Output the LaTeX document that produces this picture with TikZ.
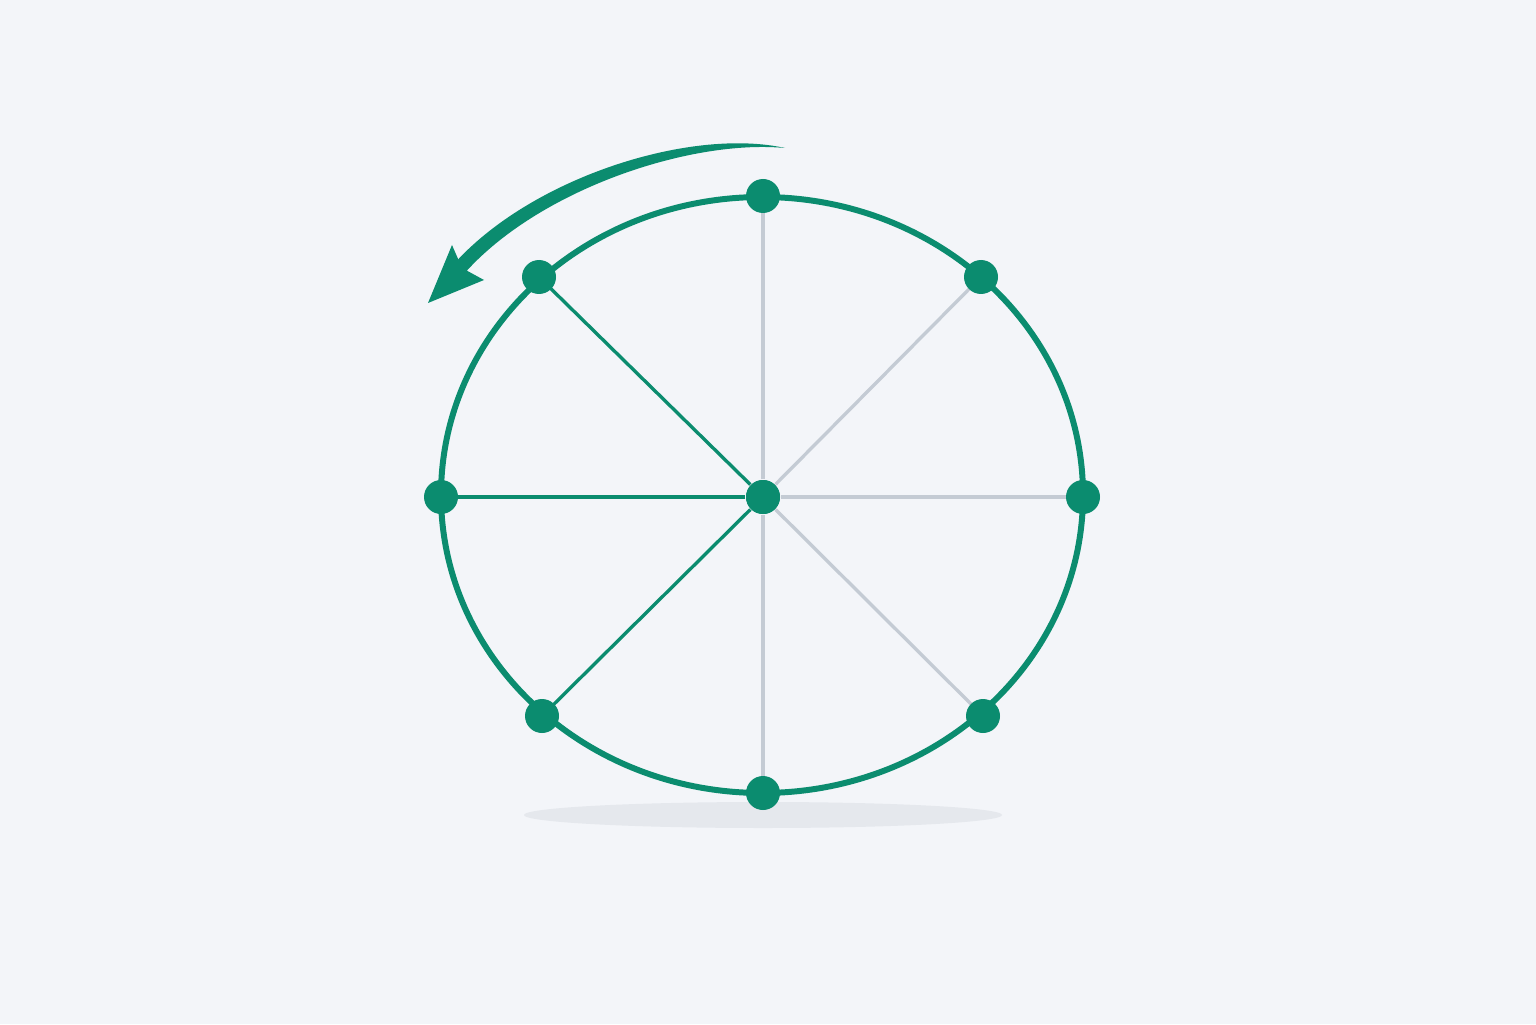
\documentclass[tikz,border=0pt]{standalone}
\usepackage{tikz}

\definecolor{bgcol}{HTML}{F3F5F9}
\definecolor{wheelgreen}{HTML}{0B8C6F}
\definecolor{spokegray}{HTML}{C4CBD4}
\definecolor{shadowcol}{HTML}{E5E8ED}

\tikzset{
  hub/.style={circle, fill=wheelgreen, inner sep=0pt, minimum size=0.34cm},
  spokeon/.style={wheelgreen, line width=0.95pt},
  spokeoff/.style={spokegray, line width=0.95pt},
}

\begin{document}
\begin{tikzpicture}
            % Background and shadow
            \fill[bgcol] (0,0) rectangle (15.36,10.24);
            \useasboundingbox (0,0) rectangle (15.36,10.24);
            \fill[shadowcol] (7.63,2.09) ellipse (2.39 and 0.13);

            % Define vertices
            \node[hub] (O) at (7.63,5.27) {};
            \coordinate (T) at (7.63,8.28);
            \coordinate (TR) at (9.81,7.47);
            \coordinate (R) at (10.83,5.27);
            \coordinate (BR) at (9.83,3.08);
            \coordinate (B) at (7.63,2.31);
            \coordinate (BL) at (5.42,3.08);
            \coordinate (L) at (4.41,5.27);
            \coordinate (TL) at (5.39,7.47);

            % Draw spokes
            \foreach \p in {T, TR, R, BR, B}
              \draw[spokeoff] (O) -- (\p);
            \foreach \p in {L, TL, BL}
              \draw[spokeon] (O) -- (\p);
            \node[hub] at (O) {};

            % Draw rim
            \draw[wheelgreen, line width=1.7pt] (7.62,5.29) ellipse (3.21 and 2.98);
            \foreach \p in {T, TR, R, BR, B, BL, L, TL}
              \node[hub] (n\p) at (\p) {};

            % Rotation arrow (tapered body, then head)
            \coordinate (arrS) at (7.85,8.76);
            \coordinate (arrO) at (4.53,7.59);
            \coordinate (arrI) at (4.63,7.49);
            \coordinate (arrTip) at (4.28,7.21);
            \fill[wheelgreen] (arrS) .. controls (6.90,8.97) and (5.30,8.46) .. (arrO)
                 -- (arrI) .. controls (5.37,8.34) and (6.90,8.85) .. (arrS) -- cycle;
            \fill[wheelgreen] (arrTip) -- (4.52,7.79) -- (4.62,7.56) -- (4.84,7.44) -- cycle;
        \end{tikzpicture}
\end{document}
